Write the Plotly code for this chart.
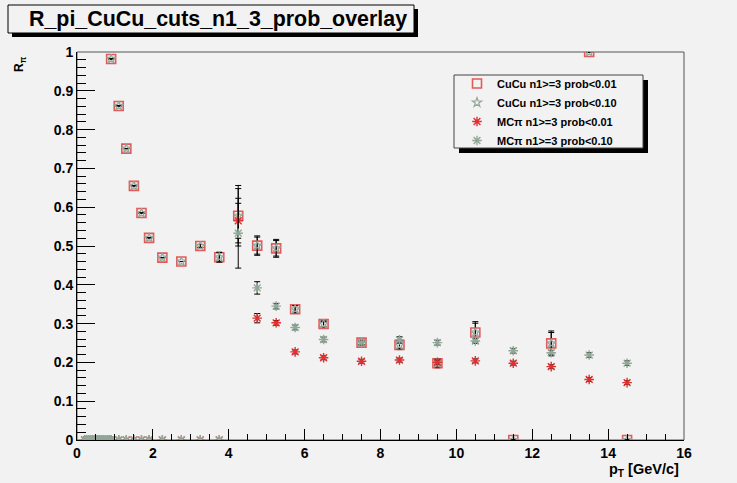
import plotly.graph_objects as go

# ---------------- data ----------------
pt_bins = [0.9, 1.1, 1.3, 1.5, 1.7, 1.9, 2.25, 2.75, 3.25, 3.75, 4.25, 4.75,
           5.25, 5.75, 6.5, 7.5, 8.5, 9.5, 10.5, 11.5, 12.5, 13.5, 14.5]
cucu_p01 = [0.982, 0.861, 0.751, 0.655, 0.585, 0.521, 0.470, 0.460, 0.500, 0.471, 0.578, 0.501,
            0.494, 0.337, 0.299, 0.251, 0.245, 0.198, 0.277, 0.0, 0.249, 1.0, 0.0]
cucu_p01_err = [None, None, None, None, None, None, None, None, 0.004, 0.013, 0.078, 0.025,
                0.023, 0.010, 0.008, 0.005, 0.012, 0.012, 0.028, None, 0.032, None, None]
cucu_p10 = [0.982, 0.861, 0.751, 0.655, 0.585, 0.521, 0.470, 0.460, 0.500, 0.471, 0.578, 0.501,
            0.494, 0.337, 0.299, 0.251, 0.245, 0.198, 0.277, 0.0, 0.249, 1.0, 0.0]
cucu_p10_err = [None, None, None, None, None, None, None, None, 0.004, 0.012, 0.07, 0.022,
                0.020, 0.009, 0.007, 0.005, 0.010, 0.010, 0.024, None, 0.028, None, None]

mc_low_pt = [0.2, 0.25, 0.3, 0.35, 0.4, 0.45, 0.5, 0.55, 0.6, 0.65, 0.7, 0.75, 0.8, 0.85]
mc_pt = mc_low_pt + pt_bins
mc_p01 = [0.0] * 14 + [0.0, 0.0, 0.0, 0.0, 0.0, 0.0, 0.0, 0.0, 0.0, 0.0, 0.565, 0.314,
                       0.302, 0.227, 0.212, 0.203, 0.206, 0.200, 0.204, 0.198, 0.189, 0.156, 0.148]
mc_p01_err = [None] * 24 + [0.045, 0.012, 0.006, 0.005, 0.005, 0.005, 0.005, 0.005, 0.005,
                            0.005, 0.005, 0.005, 0.005]
mc_p10 = [0.0] * 14 + [0.0, 0.0, 0.0, 0.0, 0.0, 0.0, 0.0, 0.0, 0.0, 0.0, 0.533, 0.392,
                       0.345, 0.290, 0.259, 0.251, 0.258, 0.251, 0.255, 0.230, 0.225, 0.219, 0.198]
mc_p10_err = [None] * 24 + [0.09, 0.016, 0.007, 0.006, 0.006, 0.006, 0.008, 0.006, 0.006,
                            0.006, 0.006, 0.006, 0.006]

names = ["CuCu n1&gt;=3 prob&lt;0.01", "CuCu n1&gt;=3 prob&lt;0.10",
         "MCπ n1&gt;=3 prob&lt;0.01", "MCπ n1&gt;=3 prob&lt;0.10"]

BG = "#f2f2f2"
FONT = "Liberation Sans, Arial, Helvetica, sans-serif"

fig = go.Figure()

def err(arr):
    return dict(type="data", array=arr, color="black", thickness=1, width=3)

fig.add_trace(go.Scatter(x=pt_bins, y=cucu_p01, mode="markers", name=names[0],
                         error_y=err(cucu_p01_err),
                         marker=dict(symbol="square-open", size=9, color="#e35a5a",
                                     line=dict(width=1.6, color="#e35a5a"))))
fig.add_trace(go.Scatter(x=pt_bins, y=cucu_p10, mode="markers", name=names[1],
                         error_y=err(cucu_p10_err),
                         marker=dict(symbol="star-open", size=7, color="#95a59a",
                                     line=dict(width=1.2, color="#95a59a"))))
fig.add_trace(go.Scatter(x=mc_pt, y=mc_p01, mode="markers", name=names[2],
                         error_y=err(mc_p01_err),
                         marker=dict(symbol="asterisk-open", size=8, color="#e03030",
                                     line=dict(width=1.4, color="#e03030"))))
fig.add_trace(go.Scatter(x=mc_pt, y=mc_p10, mode="markers", name=names[3],
                         error_y=err(mc_p10_err),
                         marker=dict(symbol="asterisk-open", size=8, color="#8fa898",
                                     line=dict(width=1.4, color="#8fa898"))))

W, H = 737, 483
L, R, T, B = 77, 53, 52, 43
pw, ph = W - L - R, H - T - B

def px(x):
    return (x - L) / pw

def py(y):
    return (H - B - y) / ph

shapes = [
    # frame
    dict(type="rect", xref="paper", yref="paper", x0=0, x1=1, y0=0, y1=1,
         line=dict(color="#555555", width=1), layer="below"),
    # title box shadow + box
    dict(type="rect", xref="paper", yref="paper", x0=px(12), x1=px(418), y0=py(37), y1=py(9),
         fillcolor="black", line=dict(width=0)),
    dict(type="rect", xref="paper", yref="paper", x0=px(8), x1=px(414), y0=py(33), y1=py(5),
         fillcolor=BG, line=dict(color="black", width=1)),
    # legend shadow + box
    dict(type="rect", xref="paper", yref="paper", x0=px(459), x1=px(648), y0=py(153), y1=py(80),
         fillcolor="black", line=dict(width=0)),
    dict(type="rect", xref="paper", yref="paper", x0=px(454), x1=px(643), y0=py(148), y1=py(75),
         fillcolor=BG, line=dict(color="#444444", width=1)),
]

annotations = [
    dict(text="<b>R_pi_CuCu_cuts_n1_3_prob_overlay</b>", xref="paper", yref="paper",
         x=px(218), y=py(19), xanchor="center", yanchor="middle", showarrow=False,
         font=dict(family=FONT, size=21.4, color="black")),
    dict(text="<b>R<sub>π</sub></b>", xref="paper", yref="paper", x=px(20), y=py(64),
         textangle=-90, xanchor="center", yanchor="middle", showarrow=False,
         font=dict(family=FONT, size=12, color="black")),
    dict(text="<b>p<sub>T</sub> [GeV/c]</b>", xref="paper", yref="paper", x=px(681), y=py(470),
         xanchor="right", yanchor="middle", showarrow=False,
         font=dict(family=FONT, size=14.5, color="black")),
]

fig.update_layout(
    width=W, height=H,
    margin=dict(l=L, r=R, t=T, b=B, autoexpand=False),
    paper_bgcolor=BG, plot_bgcolor=BG,
    font=dict(family=FONT, color="black"),
    shapes=shapes, annotations=annotations,
    showlegend=True,
    legend=dict(x=px(457), y=py(69), xanchor="left", yanchor="top",
                bgcolor="rgba(0,0,0,0)", borderwidth=0,
                font=dict(family=FONT, size=11, color="black", weight="bold"),
                tracegroupgap=0),
    xaxis=dict(range=[0, 16], dtick=2, tick0=0, ticks="inside", ticklen=11, tickwidth=1,
               tickcolor="black", showgrid=False, zeroline=False, showline=True,
               linecolor="black", linewidth=1, mirror=False,
               tickfont=dict(family=FONT, size=14, color="black", weight="bold"),
               minor=dict(dtick=0.5, ticks="inside", ticklen=6, tickcolor="black", showgrid=False)),
    yaxis=dict(range=[0, 1], dtick=0.1, tick0=0, ticks="inside", ticklen=18, tickwidth=1,
               tickcolor="black", showgrid=False, zeroline=False, showline=True,
               linecolor="black", linewidth=1, mirror=False,
               tickfont=dict(family=FONT, size=14, color="black", weight="bold"),
               minor=dict(dtick=0.02, ticks="inside", ticklen=9, tickcolor="black", showgrid=False)),
)

fig.write_html(
    "out.html",
    config={"displayModeBar": False},
    post_script="document.body.style.margin='0';document.body.style.overflow='hidden';"
                "document.body.style.background='#f2f2f2';",
)
